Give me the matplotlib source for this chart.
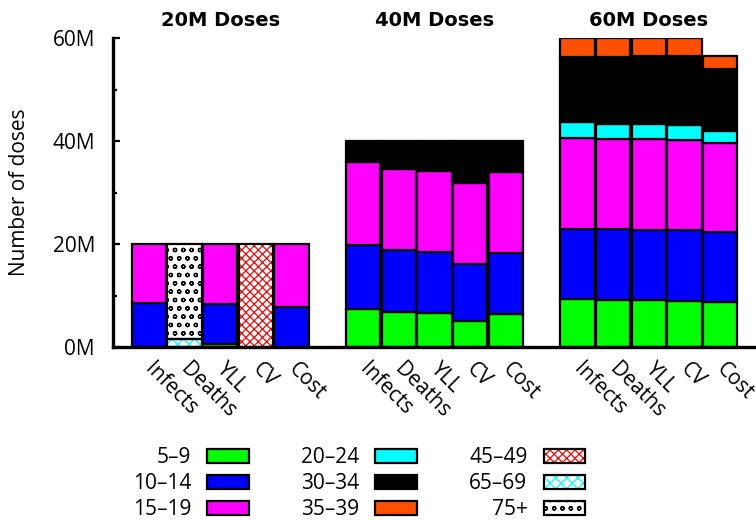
import matplotlib
matplotlib.use("Agg")
import matplotlib.pyplot as plt
import matplotlib.transforms as mtransforms
from matplotlib.patches import Rectangle
from matplotlib.legend_handler import HandlerTuple
import numpy as np

plt.rcParams["font.family"] = ["Open Sans", "DejaVu Sans"]
plt.rcParams["hatch.linewidth"] = 0.9

# Dose budgets (one group of bars each) and the allocation objectives
dose_groups = ["20M Doses", "40M Doses", "60M Doses"]
objectives = ["Infects", "Deaths", "YLL", "CV", "Cost"]

# Age groups (bottom to top of each stack)
age_groups = ["5–9", "10–14", "15–19", "20–24", "30–34", "35–39",
              "45–49", "65–69", "75+"]

# Doses (millions) per age group; 15 bars = 3 dose groups x 5 objectives
doses_5_9 = [0.0, 0.0, 0.5, 0.0, 0.0,
             7.4, 6.7, 6.6, 5.0, 6.4,
             9.3, 9.1, 9.1, 9.0, 8.7]
doses_10_14 = [8.6, 0.0, 7.8, 0.0, 7.8,
               12.4, 12.1, 11.9, 11.2, 11.8,
               13.6, 13.75, 13.7, 13.65, 13.6]
doses_15_19 = [11.4, 0.0, 11.7, 0.0, 12.2,
               16.2, 15.8, 15.7, 15.6, 15.8,
               17.6, 17.55, 17.5, 17.6, 17.4]
doses_20_24 = [0.0, 0.0, 0.0, 0.0, 0.0,
               0.0, 0.0, 0.0, 0.0, 0.0,
               3.1, 2.9, 3.0, 2.95, 2.3]
doses_30_34 = [0.0, 0.0, 0.0, 0.0, 0.0,
               4.0, 5.4, 5.8, 8.2, 6.0,
               12.8, 13.0, 13.2, 13.3, 11.9]
doses_35_39 = [0.0, 0.0, 0.0, 0.0, 0.0,
               0.0, 0.0, 0.0, 0.0, 0.0,
               3.6, 3.7, 3.5, 3.5, 2.7]
doses_45_49 = [0.0, 0.0, 0.0, 20.0, 0.0,
               0.0, 0.0, 0.0, 0.0, 0.0,
               0.0, 0.0, 0.0, 0.0, 0.0]
doses_65_69 = [0.0, 1.5, 0.0, 0.0, 0.0,
               0.0, 0.0, 0.0, 0.0, 0.0,
               0.0, 0.0, 0.0, 0.0, 0.0]
doses_75_plus = [0.0, 18.5, 0.0, 0.0, 0.0,
                 0.0, 0.0, 0.0, 0.0, 0.0,
                 0.0, 0.0, 0.0, 0.0, 0.0]

series = [doses_5_9, doses_10_14, doses_15_19, doses_20_24, doses_30_34,
          doses_35_39, doses_45_49, doses_65_69, doses_75_plus]

# Fill style per age group: (face colour, hatch colour, hatch pattern)
styles = [
    ("#00ff00", None, None),
    ("#0000ff", None, None),
    ("#ff00ff", None, None),
    ("#00ffff", None, None),
    ("#000000", None, None),
    ("#ff4f00", None, None),
    ("white", "#ff0000", "xxxx"),
    ("white", "#00ffff", "xxx"),
    ("white", "#000000", "oo"),
]

W, H = 756, 521
fig = plt.figure(figsize=(W / 100, H / 100), dpi=100)
ax = fig.add_axes([113 / W, 1 - 347 / H, (756 - 113) / W, (347 - 38) / H])

n_obj = len(objectives)
x = np.array([g * (n_obj + 1) + i for g in range(len(dose_groups))
              for i in range(n_obj)], dtype=float)

bar_w = 0.96
edge_lw = 1.6
bottom = np.zeros(len(x))
handles = []
for vals, (fc, hc, hatch) in zip(series, styles):
    vals = np.asarray(vals)
    m = vals > 0
    if hatch is None:
        if m.any():
            ax.bar(x[m], vals[m], bottom=bottom[m], width=bar_w, color=fc,
                   edgecolor="black", linewidth=edge_lw, zorder=2)
        handles.append(Rectangle((0, 0), 1, 1, facecolor=fc,
                                 edgecolor="black", linewidth=edge_lw))
    else:
        if m.any():
            ax.bar(x[m], vals[m], bottom=bottom[m], width=bar_w,
                   color=fc, edgecolor=hc, hatch=hatch, linewidth=0,
                   zorder=2)
            ax.bar(x[m], vals[m], bottom=bottom[m], width=bar_w,
                   fill=False, edgecolor="black", linewidth=edge_lw,
                   zorder=3)
        handles.append((Rectangle((0, 0), 1, 1, facecolor=fc, edgecolor=hc,
                                  hatch=hatch, linewidth=0),
                        Rectangle((0, 0), 1, 1, fill=False,
                                  edgecolor="black", linewidth=edge_lw)))
    bottom += vals

ax.set_xlim(-1, 17)
ax.set_ylim(0, 60)

ax.set_yticks([0, 20, 40, 60])
ax.set_yticklabels(["0M", "20M", "40M", "60M"])
ax.set_yticks([10, 30, 50], minor=True)
ax.tick_params(axis="y", which="major", direction="in", length=5, width=1.6,
               labelsize=15, pad=13)
ax.tick_params(axis="y", which="minor", direction="in", length=3, width=1.6)

ax.set_xticks(x)
ax.set_xticklabels(objectives * len(dose_groups), rotation=-45,
                   ha="left", va="top", rotation_mode="anchor")
ax.tick_params(axis="x", length=0, labelsize=15, pad=5)
shift = mtransforms.ScaledTranslation(0.07, -0.05, fig.dpi_scale_trans)
for lbl in ax.get_xticklabels():
    lbl.set_transform(lbl.get_transform() + shift)

for side in ("top", "right"):
    ax.spines[side].set_visible(False)
for side in ("left", "bottom"):
    ax.spines[side].set_linewidth(2.4)

ax.set_ylabel("Number of doses", fontsize=15)
ax.yaxis.set_label_coords(-0.129, 0.5)

trans = mtransforms.blended_transform_factory(ax.transData, ax.transAxes)
for g, name in enumerate(dose_groups):
    cx = g * (n_obj + 1) + (n_obj - 1) / 2
    ax.text(cx, 1.039, name, transform=trans, ha="center", va="baseline",
            fontsize=14, fontweight="bold", family="DejaVu Sans")

fig.legend(handles, age_groups, ncol=3, markerfirst=False, frameon=False,
           loc="upper left", bbox_to_anchor=(133 / W, 1 - 447 / H),
           borderaxespad=0, borderpad=0, fontsize=15,
           handlelength=2.0, handleheight=0.67, handletextpad=0.77,
           columnspacing=2.5, labelspacing=0.24,
           handler_map={tuple: HandlerTuple(ndivide=1, pad=0)})

fig.savefig("out.png", dpi=100)
